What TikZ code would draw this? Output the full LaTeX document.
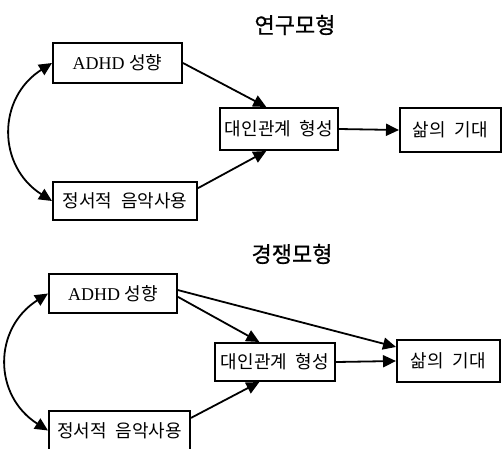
\documentclass[tikz,border=0pt]{standalone}
\usepackage{fontspec}
\setmainfont{Liberation Serif}
\newfontfamily\kor[WordSpace=2.2]{Noto Sans CJK KR}
\newfontfamily\kortitle[FakeBold=0.8]{Noto Sans CJK KR}
\usetikzlibrary{arrows.meta}

\begin{document}
\begin{tikzpicture}[x=1pt, y=-1pt,
  box/.style={draw, line width=2pt, inner sep=0pt, font=\fontsize{18}{18}\selectfont\kor},
  arr/.style={line width=1.8pt, -{Triangle[length=13pt,width=12pt]}},
  dbl/.style={line width=1.8pt, {Triangle[length=13pt,width=12pt]}-{Triangle[length=13pt,width=12pt]}},
  title/.style={font=\fontsize{22}{22}\selectfont\kortitle}]
  \useasboundingbox (0,0) rectangle (502,448);

  % Research model (top)
  \node[title] (title1) at (295,25) {연구모형};
  \node[box, minimum width=129pt, minimum height=40pt] (adhd1) at (117.5,63) {{\rmfamily ADHD }성향};
  \node[box, minimum width=144pt, minimum height=38pt] (music1) at (125,201) {정서적 음악사용};
  \node[box, minimum width=118pt, minimum height=42pt] (rel1) at (279,129) {대인관계 형성};
  \node[box, minimum width=101pt, minimum height=44pt] (life1) at (450.5,130) {삶의 기대};
  \draw[arr] (adhd1.east) -- (rel1.120); % path a
  \draw[arr] (music1.10) -- (rel1.-120); % path b
  \draw[arr] (rel1.east) -- (life1.west); % mediator to outcome
  \draw[dbl] (adhd1.west) .. controls +(-55,35) and +(-55,-35) .. (music1.west); % covariance

  % Competing model (bottom)
  \node[title] (title2) at (292,254) {경쟁모형};
  \node[box, minimum width=128pt, minimum height=39pt] (adhd2) at (113,293.5) {{\rmfamily ADHD }성향};
  \node[box, minimum width=141pt, minimum height=39pt] (music2) at (119.5,430.5) {정서적 음악사용};
  \node[box, minimum width=120pt, minimum height=38pt] (rel2) at (275,362) {대인관계 형성};
  \node[box, minimum width=103pt, minimum height=42pt] (life2) at (448.5,361) {삶의 기대};
  \draw[arr] (adhd2.-3) -- (rel2.128); % path a
  \draw[arr] (adhd2.3) -- (life2.165); % direct path
  \draw[arr] (music2.10) -- (rel2.-128); % path b
  \draw[arr] (rel2.east) -- (life2.west); % mediator to outcome
  \draw[dbl] (adhd2.west) .. controls +(-55,35) and +(-55,-35) .. (music2.west); % covariance
\end{tikzpicture}
\end{document}
